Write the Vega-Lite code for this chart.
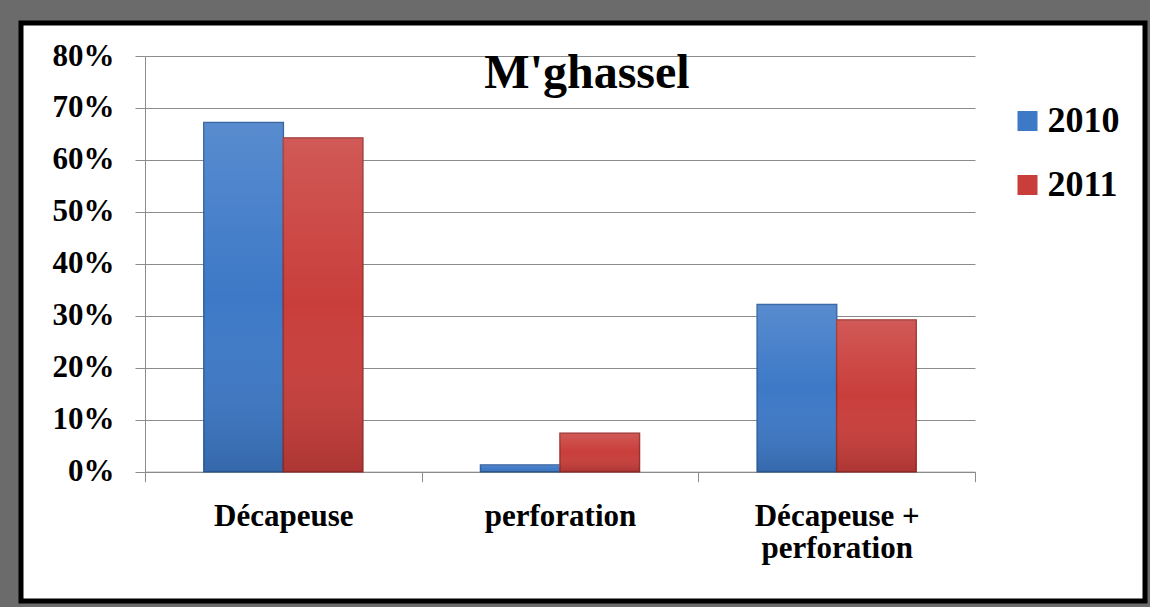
{
  "$schema": "https://vega.github.io/schema/vega-lite/v6.json",
  "autosize": "none",
  "width": 1124,
  "height": 578,
  "padding": {"left": 21, "top": 23, "right": 5, "bottom": 6},
  "background": "#6b6b6b",
  "title": {
    "text": "M'ghassel",
    "font": "Liberation Serif",
    "fontSize": 48,
    "fontWeight": "bold",
    "color": "black",
    "anchor": "middle",
    "frame": "group",
    "baseline": "alphabetic",
    "offset": 0,
    "dx": 4,
    "dy": 113
  },
  "data": {
    "values": [
      {"cat": "Décapeuse", "year": "2010", "value": 0.672},
      {"cat": "Décapeuse", "year": "2011", "value": 0.642},
      {"cat": "perforation", "year": "2010", "value": 0.013},
      {"cat": "perforation", "year": "2011", "value": 0.074},
      {"cat": "Décapeuse + perforation", "year": "2010", "value": 0.322},
      {"cat": "Décapeuse + perforation", "year": "2011", "value": 0.292}
    ]
  },
  "encoding": {
    "x": {
      "field": "cat",
      "type": "nominal",
      "sort": ["Décapeuse", "perforation", "Décapeuse + perforation"],
      "scale": {"range": [124, 954], "paddingInner": 0, "paddingOuter": 0},
      "axis": {
        "title": null,
        "offset": -129.3,
        "tickBand": "extent",
        "tickSize": 10,
        "tickColor": "#8c8c8c",
        "domainColor": "#8c8c8c",
        "grid": false,
        "labelAngle": 0,
        "labelFont": "Liberation Serif",
        "labelFontSize": 31,
        "labelFontWeight": "bold",
        "labelColor": "black",
        "labelPadding": 20,
        "labelLimit": 0,
        "labelLineHeight": 32,
        "labelExpr": "datum.value == 'Décapeuse + perforation' ? ['Décapeuse +', 'perforation'] : datum.value"
      }
    },
    "xOffset": {"field": "year", "type": "nominal", "scale": {"paddingInner": 0, "paddingOuter": 0.74}},
    "y": {
      "field": "value",
      "type": "quantitative",
      "scale": {"domain": [0, 0.8], "range": [448.7, 33], "nice": false},
      "axis": {
        "title": null,
        "offset": -124,
        "values": [0, 0.1, 0.2, 0.3, 0.4, 0.5, 0.6, 0.7, 0.8],
        "format": ".0%",
        "tickSize": 10,
        "tickColor": "#8c8c8c",
        "domainColor": "#8c8c8c",
        "grid": true,
        "gridColor": "#8c8c8c",
        "gridWidth": 1.2,
        "labelFont": "Liberation Serif",
        "labelFontSize": 31,
        "labelFontWeight": "bold",
        "labelColor": "black",
        "labelPadding": 21
      }
    }
  },
  "layer": [
    {
      "mark": {"type": "bar", "strokeWidth": 1.5},
      "encoding": {
        "color": {
          "field": "year",
          "type": "nominal",
          "scale": {"range": ["#3d79c7", "#c93e3b"]},
          "legend": {
            "title": null,
            "orient": "none",
            "legendX": 988.5,
            "legendY": 80,
            "padding": 0,
            "symbolType": "square",
            "symbolSize": 400,
            "symbolStrokeWidth": 0,
            "labelFont": "Liberation Serif",
            "labelFontSize": 36,
            "labelFontWeight": "bold",
            "labelColor": "black",
            "labelOffset": 2,
            "rowPadding": 28
          }
        },
        "stroke": {
          "field": "year",
          "type": "nominal",
          "scale": {"range": ["#2f5f9e", "#9c2f2c"]},
          "legend": null
        }
      }
    },
    {
      "mark": {
        "type": "bar",
        "strokeWidth": 0,
        "fill": {
          "gradient": "linear",
          "x1": 0, "y1": 0, "x2": 0, "y2": 1,
          "stops": [
            {"offset": 0, "color": "rgba(255,255,255,0.14)"},
            {"offset": 0.5, "color": "rgba(255,255,255,0)"},
            {"offset": 1, "color": "rgba(0,0,0,0.14)"}
          ]
        }
      },
      "encoding": {}
    }
  ],
  "config": {
    "view": {"stroke": "black", "strokeWidth": 5, "fill": "white"},
    "font": "Liberation Serif"
  }
}
